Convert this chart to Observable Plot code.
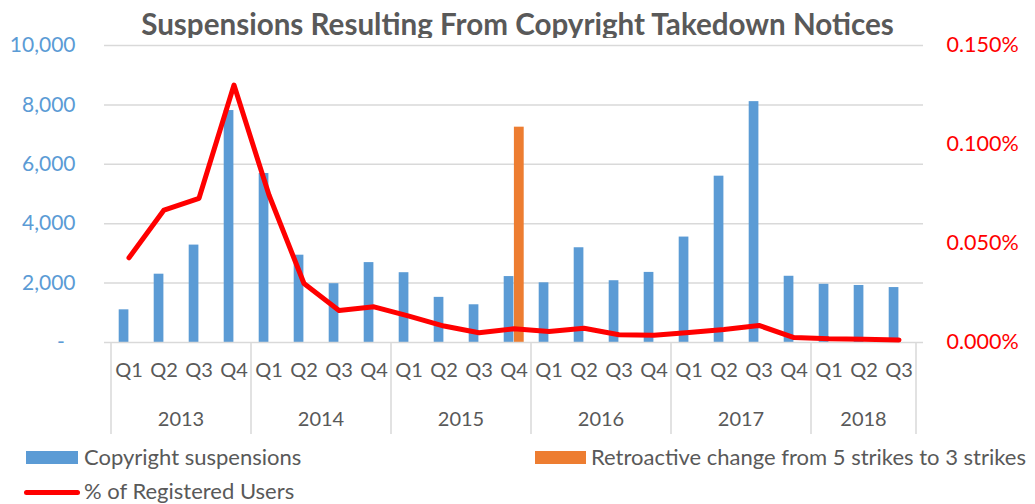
<!DOCTYPE html>
<html>
<head>
<meta charset="utf-8">
<script src="https://cdn.jsdelivr.net/npm/d3@7"></script>
<script src="https://cdn.jsdelivr.net/npm/@observablehq/plot@0.6"></script>
<style>
  body { margin: 0; background: #fff; font-family: Lato, sans-serif; }
  #wrap { position: relative; width: 1035px; height: 504px; overflow: hidden; }
  #title { position: absolute; left: 0; top: 0; width: 1035px; text-align: center; font-weight: bold;
           font-size: 29.6px; line-height: 29.6px; padding-top: 8.6px; color: #595959; white-space: nowrap; }
  #chart { position: absolute; left: 0; top: 38px; }
  .leg { position: absolute; font-size: 22px; line-height: 22px; color: #595959; white-space: nowrap; }
  .sw { position: absolute; }
</style>
</head>
<body>
<div id="wrap">
  <div id="title">Suspensions Resulting From Copyright Takedown Notices</div>
  <div id="chart"></div>
  <div class="sw" style="left:26px;top:451px;width:52px;height:13px;background:#5B9BD5"></div>
  <div class="leg" style="left:84px;top:445.5px">Copyright suspensions</div>
  <div class="sw" style="left:535px;top:451px;width:51px;height:13px;background:#ED7D31"></div>
  <div class="leg" style="left:591px;top:445.5px">Retroactive change from 5 strikes to 3 strikes</div>
  <div class="sw" style="left:24px;top:489.5px;width:56px;height:5px;border-radius:3px;background:#FF0000"></div>
  <div class="leg" style="left:84px;top:480px">% of Registered Users</div>
</div>
<script>
// ---- data ----
const years = ["2013", "2014", "2015", "2016", "2017", "2018"];
const periodYears = ["2013","2013","2013","2013","2014","2014","2014","2014","2015","2015","2015","2015",
                     "2016","2016","2016","2016","2017","2017","2017","2017","2018","2018","2018"];
const periodQuarters = ["Q1","Q2","Q3","Q4","Q1","Q2","Q3","Q4","Q1","Q2","Q3","Q4",
                        "Q1","Q2","Q3","Q4","Q1","Q2","Q3","Q4","Q1","Q2","Q3"];
const copyrightSuspensions = [1100, 2300, 3280, 7810, 5690, 2940, 1980, 2690, 2350, 1520, 1270, 2220,
                              2010, 3190, 2080, 2360, 3550, 5600, 8110, 2230, 1960, 1920, 1850];
const pctRegisteredUsers = [0.0428, 0.0669, 0.0728, 0.1300, 0.0745, 0.0298, 0.0162, 0.0180, 0.0133, 0.0083, 0.0049, 0.0069,
                            0.0056, 0.0072, 0.0039, 0.0037, 0.0051, 0.0066, 0.0086, 0.0025, 0.0019, 0.0017, 0.0013];
const retroactiveYear = "2015";
const retroactiveQuarter = "Q4";
const retroactiveValue = 7250;
const leftTicks = [0, 2000, 4000, 6000, 8000, 10000];
const rightTicksPct = [0, 0.05, 0.10, 0.15];
const leftMax = 10000;
const rightMax = 0.15;

// ---- build ----
const periods = periodYears.map((y, i) => y + " " + periodQuarters[i]);
const data = periods.map((p, i) => ({
  period: p, year: periodYears[i], quarter: periodQuarters[i],
  value: copyrightSuspensions[i], pct: pctRegisteredUsers[i]
}));
const retro = [{period: retroactiveYear + " " + retroactiveQuarter, value: retroactiveValue}];
const toLeft = pct => pct / rightMax * leftMax;

const blue = "#5B9BD5", orange = "#ED7D31", red = "#FF0000", grid = "#D9D9D9", text = "#595959";

function yearAxis(index, scales, values, dims) {
  const x = scales.x;
  const bw = (x && typeof x.bandwidth === "function") ? x.bandwidth()
    : (dims.width - dims.marginLeft - dims.marginRight) / periods.length;
  const y0 = dims.height - dims.marginBottom;
  const g = d3.create("svg:g");
  const seps = [];
  years.forEach(yr => {
    const ps = data.filter(d => d.year === yr).map(d => d.period);
    const x0 = x(ps[0]), x1 = x(ps[ps.length - 1]) + bw;
    seps.push(x0);
    g.append("text")
      .attr("x", (x0 + x1) / 2).attr("y", y0 + 77).attr("dy", "0.35em")
      .attr("text-anchor", "middle").attr("fill", text).attr("font-size", 20)
      .text(yr);
  });
  seps.push(x(periods[periods.length - 1]) + bw);
  seps.forEach(sx => {
    g.append("line").attr("x1", sx).attr("x2", sx).attr("y1", y0).attr("y2", y0 + 92)
      .attr("stroke", grid).attr("stroke-width", 1.5);
  });
  return g.node();
}

const chart = Plot.plot({
  width: 1035,
  height: 405,
  marginTop: 7,
  marginBottom: 101,
  marginLeft: 104,
  marginRight: 112,
  style: {fontFamily: "Lato, sans-serif", fontSize: "20px", overflow: "visible", background: "white"},
  x: {type: "band", domain: periods, padding: 0, paddingOuter: 0, paddingInner: 0},
  y: {domain: [0, leftMax]},
  marks: [
    Plot.gridY(leftTicks.filter(v => v > 0), {stroke: grid, strokeOpacity: 1, strokeWidth: 1.5}),
    Plot.barY(data, {x: "period", y: "value", fill: blue, insetLeft: 7.7, insetRight: 17.6}),
    Plot.barY(retro, {x: "period", y: "value", fill: orange, insetLeft: 17.9, insetRight: 7.3}),
    Plot.ruleY([0], {stroke: grid, strokeWidth: 1.5}),
    Plot.lineY(data, {x: "period", y: d => toLeft(d.pct), stroke: red, strokeWidth: 5,
                      strokeLinecap: "round", strokeLinejoin: "round"}),
    Plot.axisY({ticks: leftTicks, tickSize: 0, tickPadding: 29, fill: blue, fontSize: 21, label: null,
                tickFormat: d => d === 0 ? "-\u00a0\u00a0" : d3.format(",")(d)}),
    Plot.axisY({anchor: "right", ticks: rightTicksPct.map(toLeft), tickSize: 0, tickPadding: 23,
                fill: red, fontSize: 21.5, label: null,
                tickFormat: d => (d / leftMax * rightMax).toFixed(3) + "%"}),
    Plot.axisX({tickSize: 0, tickPadding: 20, fill: text, fontSize: 20, label: null,
                tickFormat: p => p.split(" ")[1]}),
    yearAxis
  ]
});
document.getElementById("chart").appendChild(chart);
</script>
</body>
</html>
